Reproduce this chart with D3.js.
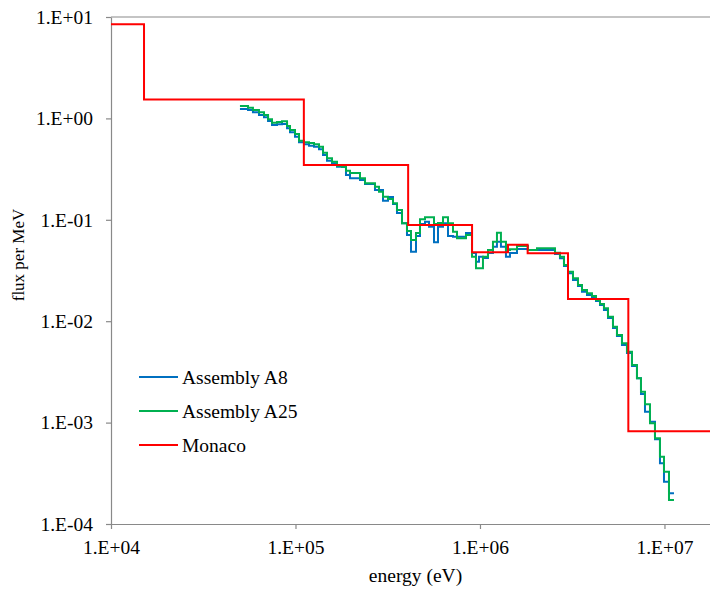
<!DOCTYPE html>
<html>
<head>
<meta charset="utf-8">
<script src="https://cdn.jsdelivr.net/npm/d3@7/dist/d3.min.js"></script>
<style>
  html, body { margin: 0; padding: 0; background: #fff; }
  svg { display: block; }
</style>
</head>
<body>
<svg id="chart" width="710" height="589"></svg>
<script>
// ---------------- data ----------------
const seriesNames = ["Assembly A8", "Assembly A25", "Monaco"];
const seriesColors = ["#0070C0", "#00B050", "#FF0000"];

// group energy bin edges (eV) shared by the two assembly spectra
const assemblyEdges = [
  5.00e4, 5.53e4, 5.88e4, 6.34e4, 6.75e4, 7.10e4, 7.46e4, 7.94e4, 8.45e4, 9.00e4,
  9.34e4, 9.94e4, 1.045e5, 1.112e5, 1.184e5, 1.260e5, 1.341e5, 1.410e5, 1.482e5, 1.577e5,
  1.679e5, 1.786e5, 1.878e5, 1.974e5, 2.237e5, 2.381e5, 2.697e5, 2.835e5, 2.981e5, 3.172e5,
  3.377e5, 3.549e5, 3.778e5, 4.021e5, 4.227e5, 4.499e5, 4.729e5, 5.034e5, 5.292e5, 5.633e5,
  5.922e5, 6.303e5, 6.709e5, 7.141e5, 7.506e5, 8.399e5, 9.051e5, 9.513e5, 9.876e5, 1.038e6,
  1.105e6, 1.176e6, 1.236e6, 1.299e6, 1.383e6, 1.454e6, 1.587e6, 1.820e6, 2.037e6, 2.550e6,
  2.714e6, 2.853e6, 3.000e6, 3.193e6, 3.398e6, 3.572e6, 3.802e6, 4.046e6, 4.254e6, 4.472e6,
  4.700e6, 4.941e6, 5.259e6, 5.528e6, 5.884e6, 6.263e6, 6.666e6, 7.095e6, 7.459e6, 7.841e6,
  8.346e6, 8.883e6, 9.454e6, 9.94e6, 1.058e7, 1.126e7
];

const fluxA8 = [
  1.238, 1.210, 1.149, 1.080, 1.025, 0.943, 0.861, 0.875, 0.881, 0.799,
  0.729, 0.660, 0.581, 0.555, 0.538, 0.526, 0.496, 0.4355, 0.3826, 0.3607,
  0.334, 0.3317, 0.2766, 0.2566, 0.2469, 0.2254, 0.1967, 0.1967, 0.1543, 0.1679,
  0.1432, 0.1167, 0.0924, 0.0708, 0.0485, 0.0692, 0.0909, 0.0958, 0.0855, 0.0600,
  0.0855, 0.0924, 0.0692, 0.0681, 0.0681, 0.0741, 0.0471, 0.0386, 0.0433, 0.0420,
  0.0471, 0.0543, 0.0608, 0.0543, 0.0433, 0.0471, 0.0515, 0.0504, 0.0504, 0.0460,
  0.0417, 0.0350, 0.0297, 0.0255, 0.0222, 0.01954, 0.01813, 0.01693, 0.01582, 0.01445,
  0.01290, 0.01075, 0.00857, 0.00714, 0.00582, 0.00486, 0.00362, 0.002735, 0.001915, 0.001281,
  0.001021, 0.000684, 0.000397, 0.0002614, 0.0002008
];

const fluxA25 = [
  1.325, 1.275, 1.210, 1.149, 1.080, 0.980, 0.907, 0.922, 0.936, 0.841,
  0.768, 0.702, 0.603, 0.581, 0.572, 0.555, 0.526, 0.459, 0.404, 0.374,
  0.3415, 0.334, 0.305, 0.289, 0.2566, 0.229, 0.212, 0.189, 0.169, 0.1604,
  0.1455, 0.1249, 0.0924, 0.0775, 0.0632, 0.0741, 0.1011, 0.1058, 0.1058, 0.0909,
  0.0930, 0.1058, 0.0924, 0.0763, 0.0657, 0.0708, 0.0433, 0.0332, 0.0332, 0.0433,
  0.0504, 0.0608, 0.0746, 0.0608, 0.0504, 0.0512, 0.0551, 0.0504, 0.0524, 0.0474,
  0.0433, 0.0358, 0.0308, 0.0265, 0.0228, 0.0203, 0.01884, 0.01772, 0.01618, 0.01478,
  0.01341, 0.01107, 0.00883, 0.00731, 0.00605, 0.00500, 0.00370, 0.002735, 0.002017, 0.001516,
  0.000984, 0.000700, 0.000461, 0.000328, 0.0001725
];

// Monaco coarse-group spectrum
const monacoEdges = [1e4, 1.51e4, 1.11e5, 4.08e5, 9.06e5, 1.419e6, 1.813e6, 3.0e6, 6.37e6, 2e7];
const fluxMonaco = [8.47, 1.54, 0.347, 0.0889, 0.0479, 0.0569, 0.0468, 0.0166, 0.00082];

const xTicks = [1e4, 1e5, 1e6, 1e7];
const xTickLabels = ["1.E+04", "1.E+05", "1.E+06", "1.E+07"];
const yTicks = [1e-4, 1e-3, 1e-2, 1e-1, 1e0, 1e1];
const yTickLabels = ["1.E-04", "1.E-03", "1.E-02", "1.E-01", "1.E+00", "1.E+01"];
const xTitle = "energy (eV)";
const yTitle = "flux per MeV";

// ---------------- layout ----------------
const FONT = "'Liberation Serif', 'Times New Roman', Times, 'DejaVu Serif', serif";
const svg = d3.select("#chart");
const plot = { left: 111, top: 17, bottom: 524, right: 720 };
const axisColor = "#898989";
const fontSize = 19.5;

const x = d3.scaleLog().domain([1e4, 2e7]).range([plot.left, plot.right]);
const y = d3.scaleLog().domain([1e-4, 1e1]).range([plot.bottom, plot.top]);

// top border line
svg.append("line")
  .attr("x1", plot.left).attr("x2", plot.right)
  .attr("y1", plot.top).attr("y2", plot.top)
  .attr("stroke", axisColor).attr("stroke-width", 1.2);

// axes
const yAxis = d3.axisLeft(y).tickValues(yTicks)
  .tickFormat((d, i) => yTickLabels[i]).tickSize(5).tickSizeOuter(0).tickPadding(13);
const gy = svg.append("g").attr("transform", `translate(${plot.left},0)`).call(yAxis);

const xAxis = d3.axisBottom(x).tickValues(xTicks)
  .tickFormat((d, i) => xTickLabels[i]).tickSize(5).tickSizeOuter(0).tickPadding(11);
const gx = svg.append("g").attr("transform", `translate(0,${plot.bottom})`).call(xAxis);

[gx, gy].forEach(g => {
  g.attr("font-family", FONT).attr("font-size", fontSize);
  g.select(".domain").attr("stroke", axisColor).attr("stroke-width", 1.2);
  g.selectAll(".tick line").attr("stroke", axisColor).attr("stroke-width", 1.2);
  g.selectAll(".tick text")
    .attr("fill", "#000")
    .attr("font-family", FONT)
    .attr("font-size", fontSize);
});

// axis titles
svg.append("text")
  .attr("x", (plot.left + plot.right) / 2).attr("y", 582)
  .attr("text-anchor", "middle")
  .attr("font-family", FONT).attr("font-size", fontSize)
  .text(xTitle);

svg.append("text")
  .attr("transform", `translate(24,255) rotate(-90)`)
  .attr("text-anchor", "middle")
  .attr("font-family", FONT).attr("font-size", 17)
  .text(yTitle);

// step lines
function stepPoints(edges, vals) {
  const pts = vals.map((v, i) => [edges[i], v]);
  pts.push([edges[vals.length], vals[vals.length - 1]]);
  return pts;
}
const line = d3.line().x(d => x(d[0])).y(d => y(d[1])).curve(d3.curveStepAfter);

const series = [
  { edges: assemblyEdges, vals: fluxA8 },
  { edges: assemblyEdges, vals: fluxA25 },
  { edges: monacoEdges, vals: fluxMonaco }
];
series.forEach((s, i) => {
  svg.append("path")
    .attr("d", line(stepPoints(s.edges, s.vals)))
    .attr("fill", "none")
    .attr("stroke", seriesColors[i])
    .attr("stroke-width", 2)
    .attr("stroke-linejoin", "miter");
});

// legend
const legendY = [377, 411, 445];
const lg = svg.append("g");
seriesNames.forEach((name, i) => {
  lg.append("line")
    .attr("x1", 139).attr("x2", 178)
    .attr("y1", legendY[i]).attr("y2", legendY[i])
    .attr("stroke", seriesColors[i]).attr("stroke-width", 2);
  lg.append("text")
    .attr("x", 182).attr("y", legendY[i] + 7)
    .attr("font-family", FONT).attr("font-size", fontSize)
    .text(name);
});
</script>
</body>
</html>
